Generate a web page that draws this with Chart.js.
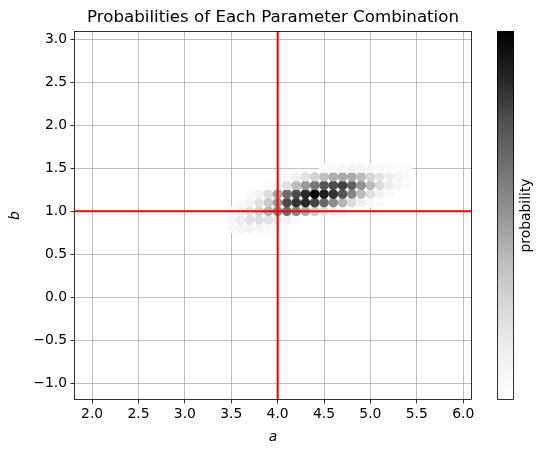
<!DOCTYPE html>
<html><head><meta charset="utf-8">
<script src="https://cdn.jsdelivr.net/npm/chart.js@4"></script>
<style>html,body{margin:0;padding:0;background:#fff}#wrap{width:543px;height:453px;position:relative}</style>
</head><body><div id="wrap"><canvas id="c" width="543" height="453"></canvas></div>
<script>
const TITLE = 'Probabilities of Each Parameter Combination';
const X_LABEL = 'a';
const Y_LABEL = 'b';
const CBAR_LABEL = 'probability';
// parameter grid (columns: a, rows: b)
const A_GRID = [3.3,3.4,3.5,3.6,3.7,3.8,3.9,4.0,4.1,4.2,4.3,4.4,4.5,4.6,4.7,4.8,4.9,5.0,5.1,5.2,5.3,5.4];
const B_GRID = [0.8,0.9,1.0,1.1,1.2,1.3,1.4,1.5];
// relative probability for each b row (one value per a in A_GRID)
const P_B08 = [0,0,0.06,0.09,0.10,0.08,0.05,0,0,0,0,0,0,0,0,0,0,0,0,0,0,0];
const P_B09 = [0,0,0.08,0.14,0.20,0.22,0.20,0.15,0.10,0.05,0,0,0,0,0,0,0,0,0,0,0,0];
const P_B10 = [0,0,0.06,0.12,0.20,0.28,0.40,0.55,0.64,0.56,0.44,0.30,0.20,0.12,0.06,0,0,0,0,0,0,0];
const P_B11 = [0,0,0,0.04,0.10,0.20,0.32,0.50,0.77,0.84,0.87,0.79,0.67,0.53,0.40,0.24,0.13,0.06,0.03,0,0,0];
const P_B12 = [0,0,0,0,0.04,0.10,0.23,0.45,0.64,0.76,0.86,1.00,0.90,0.84,0.74,0.55,0.38,0.22,0.11,0.05,0,0];
const P_B13 = [0,0,0,0,0,0,0.04,0.10,0.21,0.38,0.49,0.61,0.74,0.77,0.80,0.70,0.52,0.38,0.24,0.14,0.08,0.04];
const P_B14 = [0,0,0,0,0,0,0,0,0.05,0.12,0.20,0.28,0.36,0.42,0.44,0.44,0.38,0.27,0.19,0.13,0.08,0.04];
const P_B15 = [0,0,0,0,0,0,0,0,0,0,0,0,0.03,0.05,0.07,0.08,0.08,0.07,0.06,0.05,0.04,0.03];
const PROB_ROWS = [P_B08,P_B09,P_B10,P_B11,P_B12,P_B13,P_B14,P_B15];
const X_TICKS = [2.0,2.5,3.0,3.5,4.0,4.5,5.0,5.5,6.0];
const Y_TICKS = [-1.0,-0.5,0.0,0.5,1.0,1.5,2.0,2.5,3.0];
const X_RANGE = [1.805, 6.095];
const Y_RANGE = [-1.195, 3.095];
const TRUE_A = 4;
const TRUE_B = 1;

// matplotlib "Greys" colormap
const GREYS = [[0,255],[0.125,240],[0.25,217],[0.375,189],[0.5,150],[0.625,115],[0.75,82],[0.875,37],[1,0]];
function greys(v){
  v = Math.max(0, Math.min(1, v));
  for (let i = 1; i < GREYS.length; i++) {
    if (v <= GREYS[i][0]) {
      const [v0,g0] = GREYS[i-1], [v1,g1] = GREYS[i];
      const g = Math.round(g0 + (g1-g0)*(v-v0)/(v1-v0));
      return `rgb(${g},${g},${g})`;
    }
  }
  return 'rgb(0,0,0)';
}

const points = [];
B_GRID.forEach((b, i) => {
  A_GRID.forEach((a, j) => {
    const p = PROB_ROWS[i][j];
    if (p > 0) points.push({x: a, y: b, p: p});
  });
});
const PMAX = Math.max(...points.map(d => d.p));

const FONT = "'DejaVu Sans', sans-serif";
Chart.defaults.font.family = FONT;
Chart.defaults.color = '#000';

const fmt = v => v.toFixed(1).replace('-', '\u2212');

const overlay = {
  id: 'overlay',
  afterDraw(chart) {
    const ctx = chart.ctx, ca = chart.chartArea;
    const xs = chart.scales.x, ys = chart.scales.y;
    ctx.save();
    // true-value reference lines
    ctx.strokeStyle = '#ff0000';
    ctx.lineWidth = 2.08;
    const px = xs.getPixelForValue(TRUE_A);
    const py = ys.getPixelForValue(TRUE_B);
    ctx.beginPath();
    ctx.moveTo(px, ca.top); ctx.lineTo(px, ca.bottom);
    ctx.moveTo(ca.left, py); ctx.lineTo(ca.right, py);
    ctx.stroke();
    // spines
    ctx.strokeStyle = '#000';
    ctx.lineWidth = 0.8;
    ctx.strokeRect(Math.round(ca.left)+0.5, Math.round(ca.top)+0.5, Math.round(ca.right-ca.left)-1, Math.round(ca.bottom-ca.top)-1);
    // title
    ctx.fillStyle = '#000';
    ctx.font = `16.67px ${FONT}`;
    ctx.textAlign = 'center';
    ctx.textBaseline = 'alphabetic';
    ctx.fillText(TITLE, (ca.left+ca.right)/2, 21.5);
    // colorbar
    const cbL = 497, cbR = 514, cbT = ca.top, cbB = ca.bottom;
    const grad = ctx.createLinearGradient(0, cbB, 0, cbT);
    GREYS.forEach(([v,g]) => grad.addColorStop(v, `rgb(${g},${g},${g})`));
    ctx.fillStyle = grad;
    ctx.fillRect(cbL, cbT, cbR-cbL, cbB-cbT);
    ctx.strokeStyle = '#000';
    ctx.lineWidth = 0.8;
    ctx.strokeRect(cbL+0.5, Math.round(cbT)+0.5, cbR-cbL-1, Math.round(cbB-cbT)-1);
    ctx.fillStyle = '#000';
    ctx.font = `13.9px ${FONT}`;
    ctx.translate(526, (cbT+cbB)/2);
    ctx.rotate(-Math.PI/2);
    ctx.textAlign = 'center';
    ctx.textBaseline = 'middle';
    ctx.fillText(CBAR_LABEL, 0, 0);
    ctx.restore();
  }
};

new Chart(document.getElementById('c'), {
  type: 'scatter',
  data: {
    datasets: [{
      data: points,
      pointRadius: 4.17,
      pointBorderWidth: 1.39,
      pointHoverRadius: 4.17,
      backgroundColor: c => greys(c.raw ? c.raw.p / PMAX : 0),
      borderColor: c => greys(c.raw ? c.raw.p / PMAX : 0),
    }]
  },
  options: {
    responsive: false,
    animation: false,
    devicePixelRatio: 1,
    events: [],
    layout: {padding: {top: 31, right: 71, left: 0, bottom: 0}},
    plugins: {legend: {display: false}, tooltip: {enabled: false}, title: {display: false}},
    scales: {
      x: {
        type: 'linear', min: X_RANGE[0], max: X_RANGE[1], z: 1,
        afterBuildTicks: s => { s.ticks = X_TICKS.map(v => ({value: v})); },
        afterFit: s => { s.height = 53; },
        ticks: {callback: v => fmt(v), font: {size: 13.9}, color: '#000', padding: 3, maxRotation: 0, autoSkip: false},
        grid: {color: '#b0b0b0', lineWidth: 0.8, tickLength: 3.5, tickColor: '#000', tickWidth: 0.8},
        border: {display: false},
        title: {display: true, text: X_LABEL, font: {size: 13.9, style: 'italic'}, color: '#000', padding: {top: 0, bottom: 7}}
      },
      y: {
        type: 'linear', min: Y_RANGE[0], max: Y_RANGE[1], z: 1,
        afterBuildTicks: s => { s.ticks = Y_TICKS.map(v => ({value: v})); },
        afterFit: s => { s.width = 74; },
        ticks: {callback: v => fmt(v), font: {size: 13.9}, color: '#000', padding: 3.5, autoSkip: false},
        grid: {color: '#b0b0b0', lineWidth: 0.8, tickLength: 3.5, tickColor: '#000', tickWidth: 0.8},
        border: {display: false},
        title: {display: true, text: Y_LABEL, font: {size: 13.9, style: 'italic'}, color: '#000', padding: {top: 7, bottom: 0}}
      }
    }
  },
  plugins: [overlay]
});
</script>
</body></html>
